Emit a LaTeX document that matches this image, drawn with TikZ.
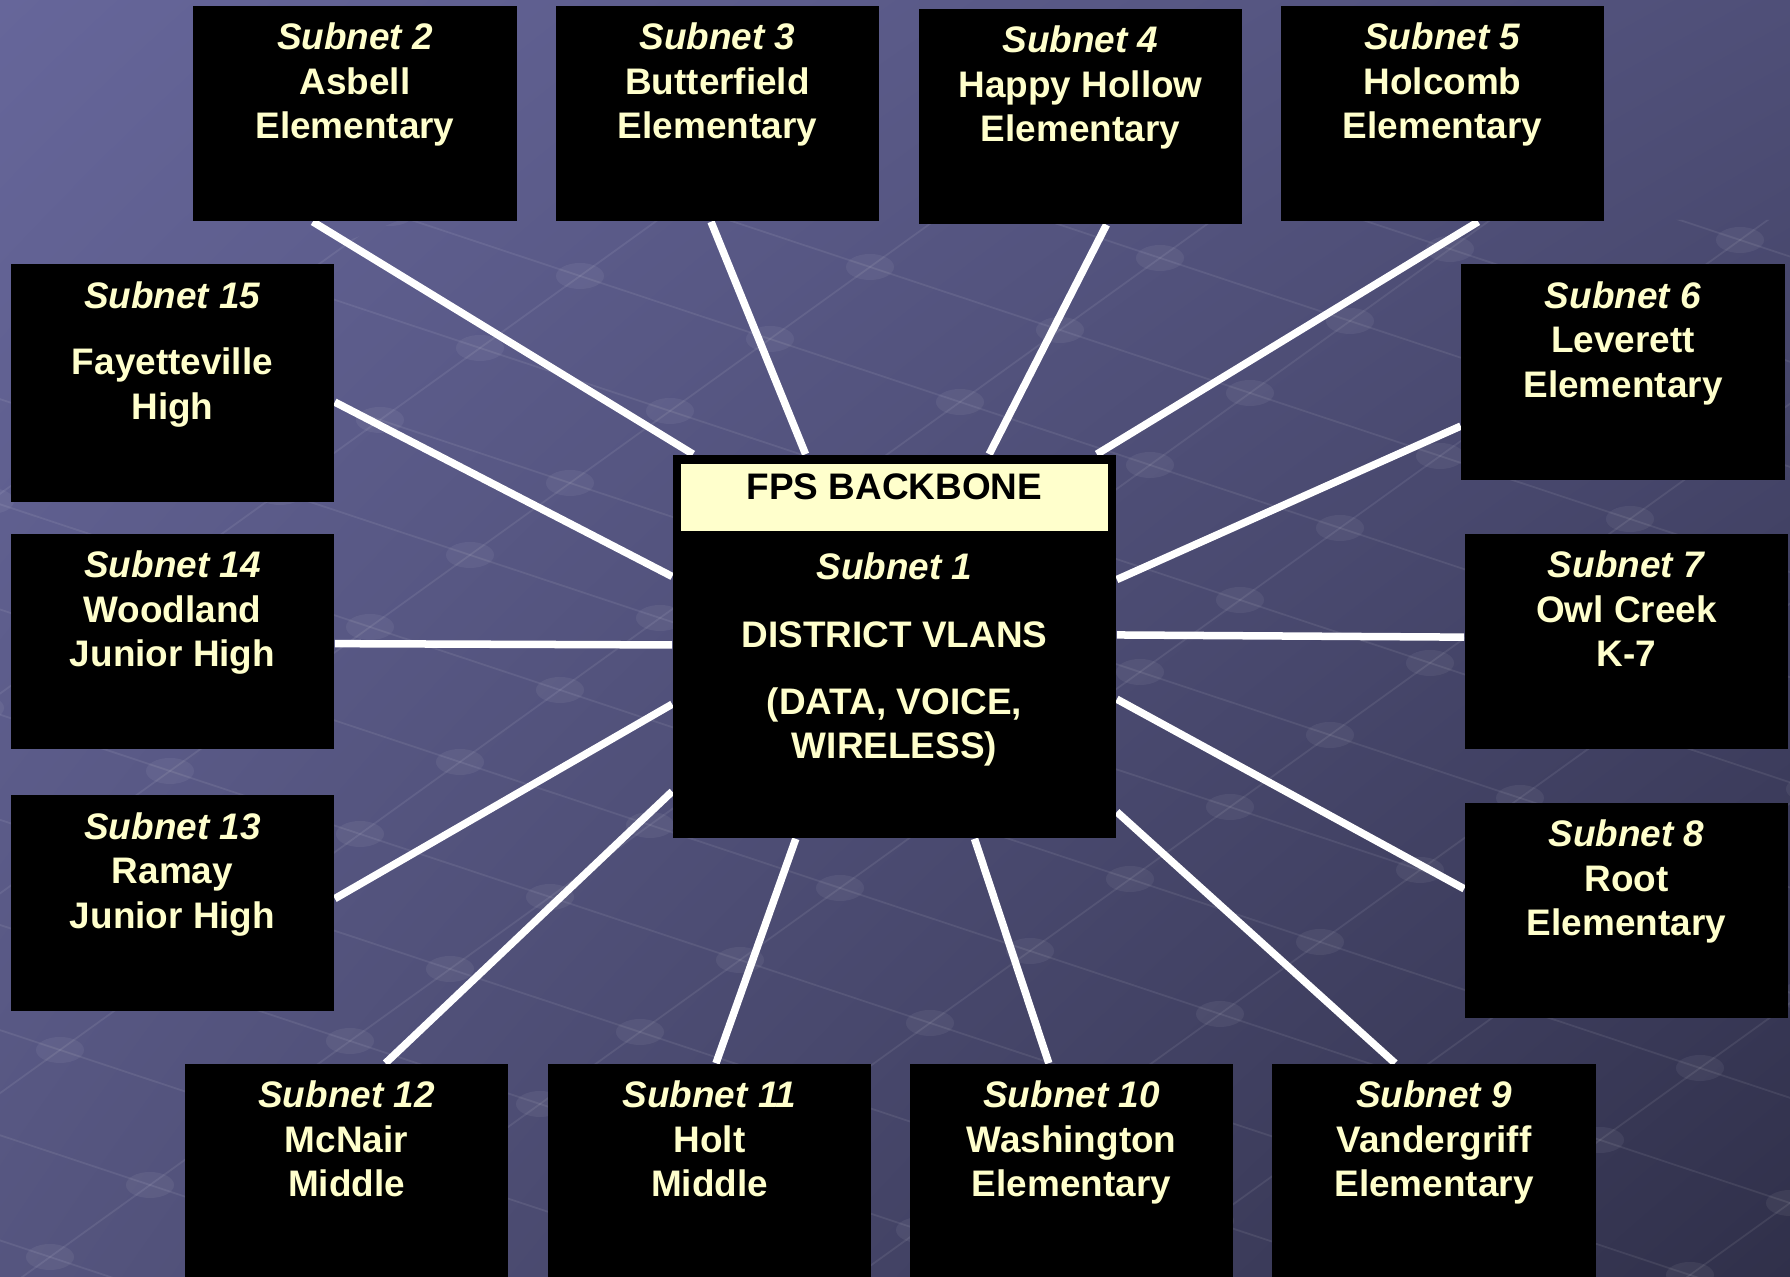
\documentclass[tikz,border=0pt]{standalone}
\usepackage{fontspec}
\setmainfont{Liberation Sans}
\usetikzlibrary{calc,shadings}
\definecolor{pale}{HTML}{FFFFCC}
\definecolor{bgtl}{HTML}{66669A}
\definecolor{bgtr}{HTML}{4F4F78}
\definecolor{bgbl}{HTML}{55557F}
\definecolor{bgbr}{HTML}{30304A}
\pgfdeclarelayer{back}
\pgfsetlayers{back,main}

\begin{document}
\begin{tikzpicture}[x=0.01cm,y=-0.01cm,
    box/.style={rectangle,fill=black,inner sep=0pt,minimum width=3.23cm,
        minimum height=2.15cm},
    lbl/.style={anchor=north,inner sep=0pt,text=pale,align=center,
        yshift=-0.17cm,font=\fontsize{10.5}{12.66}\selectfont\bfseries},
    subnet/.style={box,label={[lbl]north:{#1}}},
    link/.style={draw=white,line width=0.075cm},
    mesh/.style={draw=white,line width=0.5pt,opacity=.08},
    knob/.style={fill=white,fill opacity=.06}]
    \useasboundingbox (0,0) rectangle (1790,1277);

    % background with the faint network grid
    \begin{pgfonlayer}{back}
        \shade[shading=bilinear interpolation,upper left=bgtl,upper right=bgtr,
            lower left=bgbl,lower right=bgbr] (0,0) rectangle (1790,1277);
        \begin{scope}
            \clip (0,1277) -- (0,380) -- (400,220) -- (1790,220)
                -- (1790,1277) -- cycle;
            \foreach \j in {-5,...,12}
                \draw[mesh] ({200-190-100*\j},{150-63+72*\j})
                    -- ({200+190*12-100*\j},{150+63*12+72*\j});
            \foreach \i in {-1,...,12}
                \draw[mesh] ({200+190*\i+500},{150+63*\i-360})
                    -- ({200+190*\i-1200},{150+63*\i+864});
            \foreach \i in {-1,...,12}
                \foreach \j in {-5,...,12}
                    \fill[knob] ({200+190*\i-100*\j},{150+63*\i+72*\j})
                        ellipse (24 and 13);
        \end{scope}
    \end{pgfonlayer}

    % schools
    \node[subnet={\textit{Subnet 2}\\Asbell\\Elementary}] (s2) at (355,113.5) {};
    \node[subnet={\textit{Subnet 3}\\Butterfield\\Elementary}] (s3) at (717.5,113.5) {};
    \node[subnet={\textit{Subnet 4}\\Happy Hollow\\Elementary}] (s4) at (1080.5,116.5) {};
    \node[subnet={\textit{Subnet 5}\\Holcomb\\Elementary}] (s5) at (1442.5,113.5) {};
    \node[subnet={\textit{Subnet 6}\\Leverett\\Elementary}] (s6) at (1623,372) {};
    \node[subnet={\textit{Subnet 7}\\Owl Creek\\K-7}] (s7) at (1626.5,641.5) {};
    \node[subnet={\textit{Subnet 8}\\Root\\Elementary}] (s8) at (1626.5,910.5) {};
    \node[subnet={\textit{Subnet 9}\\Vandergriff\\Elementary}] (s9) at (1434,1171.5) {};
    \node[subnet={\textit{Subnet 10}\\Washington\\Elementary}] (s10) at (1071.5,1171.5) {};
    \node[subnet={\textit{Subnet 11}\\Holt\\Middle}] (s11) at (709.5,1171.5) {};
    \node[subnet={\textit{Subnet 12}\\McNair\\Middle}] (s12) at (346.5,1171.5) {};
    \node[subnet={\textit{Subnet 13}\\Ramay\\Junior High}] (s13) at (172.5,903) {};
    \node[subnet={\textit{Subnet 14}\\Woodland\\Junior High}] (s14) at (172.5,641.5) {};
    \node[subnet={\textit{Subnet 15}\\[6.3pt]Fayetteville\\High},
        minimum height=2.37cm] (s15) at (172.5,383) {};

    % backbone
    \node[box,minimum width=4.43cm,minimum height=3.83cm,
        label={[lbl,yshift=-0.81cm]north:{\textit{Subnet 1}\\[6.5pt]DISTRICT VLANS\\[6.5pt](DATA, VOICE,\\WIRELESS)}}]
        (core) at (894.5,646.5) {};
    \node[fill=pale,inner sep=0pt,minimum width=4.27cm,minimum height=0.67cm,
        text height=7.5pt,text depth=6.1pt,
        font=\fontsize{10.5}{12.66}\selectfont\bfseries] (hdr) at (894.5,497.5) {FPS BACKBONE};

    % links
    \begin{pgfonlayer}{back}
        \draw[link] ($(s2.south west)!.37!(s2.south east)$) -- ($(core.north west)!.047!(core.north east)$);
        \draw[link] ($(s3.south west)!.48!(s3.south east)$) -- ($(core.north west)!.30!(core.north east)$);
        \draw[link] ($(s4.south west)!.58!(s4.south east)$) -- ($(core.north west)!.713!(core.north east)$);
        \draw[link] ($(s5.south west)!.61!(s5.south east)$) -- ($(core.north west)!.955!(core.north east)$);
        \draw[link] ($(s6.north west)!.75!(s6.south west)$) -- ($(core.north east)!.326!(core.south east)$);
        \draw[link] ($(s7.north west)!.48!(s7.south west)$) -- ($(core.north east)!.47!(core.south east)$);
        \draw[link] ($(s8.north west)!.40!(s8.south west)$) -- ($(core.north east)!.637!(core.south east)$);
        \draw[link] ($(s9.north west)!.38!(s9.north east)$) -- ($(core.north east)!.93!(core.south east)$);
        \draw[link] ($(s10.north west)!.43!(s10.north east)$) -- ($(core.south west)!.68!(core.south east)$);
        \draw[link] ($(s11.north west)!.52!(s11.north east)$) -- ($(core.south west)!.278!(core.south east)$);
        \draw[link] ($(s12.north west)!.62!(s12.north east)$) -- ($(core.north west)!.877!(core.south west)$);
        \draw[link] ($(s13.north east)!.48!(s13.south east)$) -- ($(core.north west)!.65!(core.south west)$);
        \draw[link] ($(s14.north east)!.51!(s14.south east)$) -- ($(core.north west)!.496!(core.south west)$);
        \draw[link] ($(s15.north east)!.58!(s15.south east)$) -- ($(core.north west)!.318!(core.south west)$);
    \end{pgfonlayer}
\end{tikzpicture}
\end{document}
